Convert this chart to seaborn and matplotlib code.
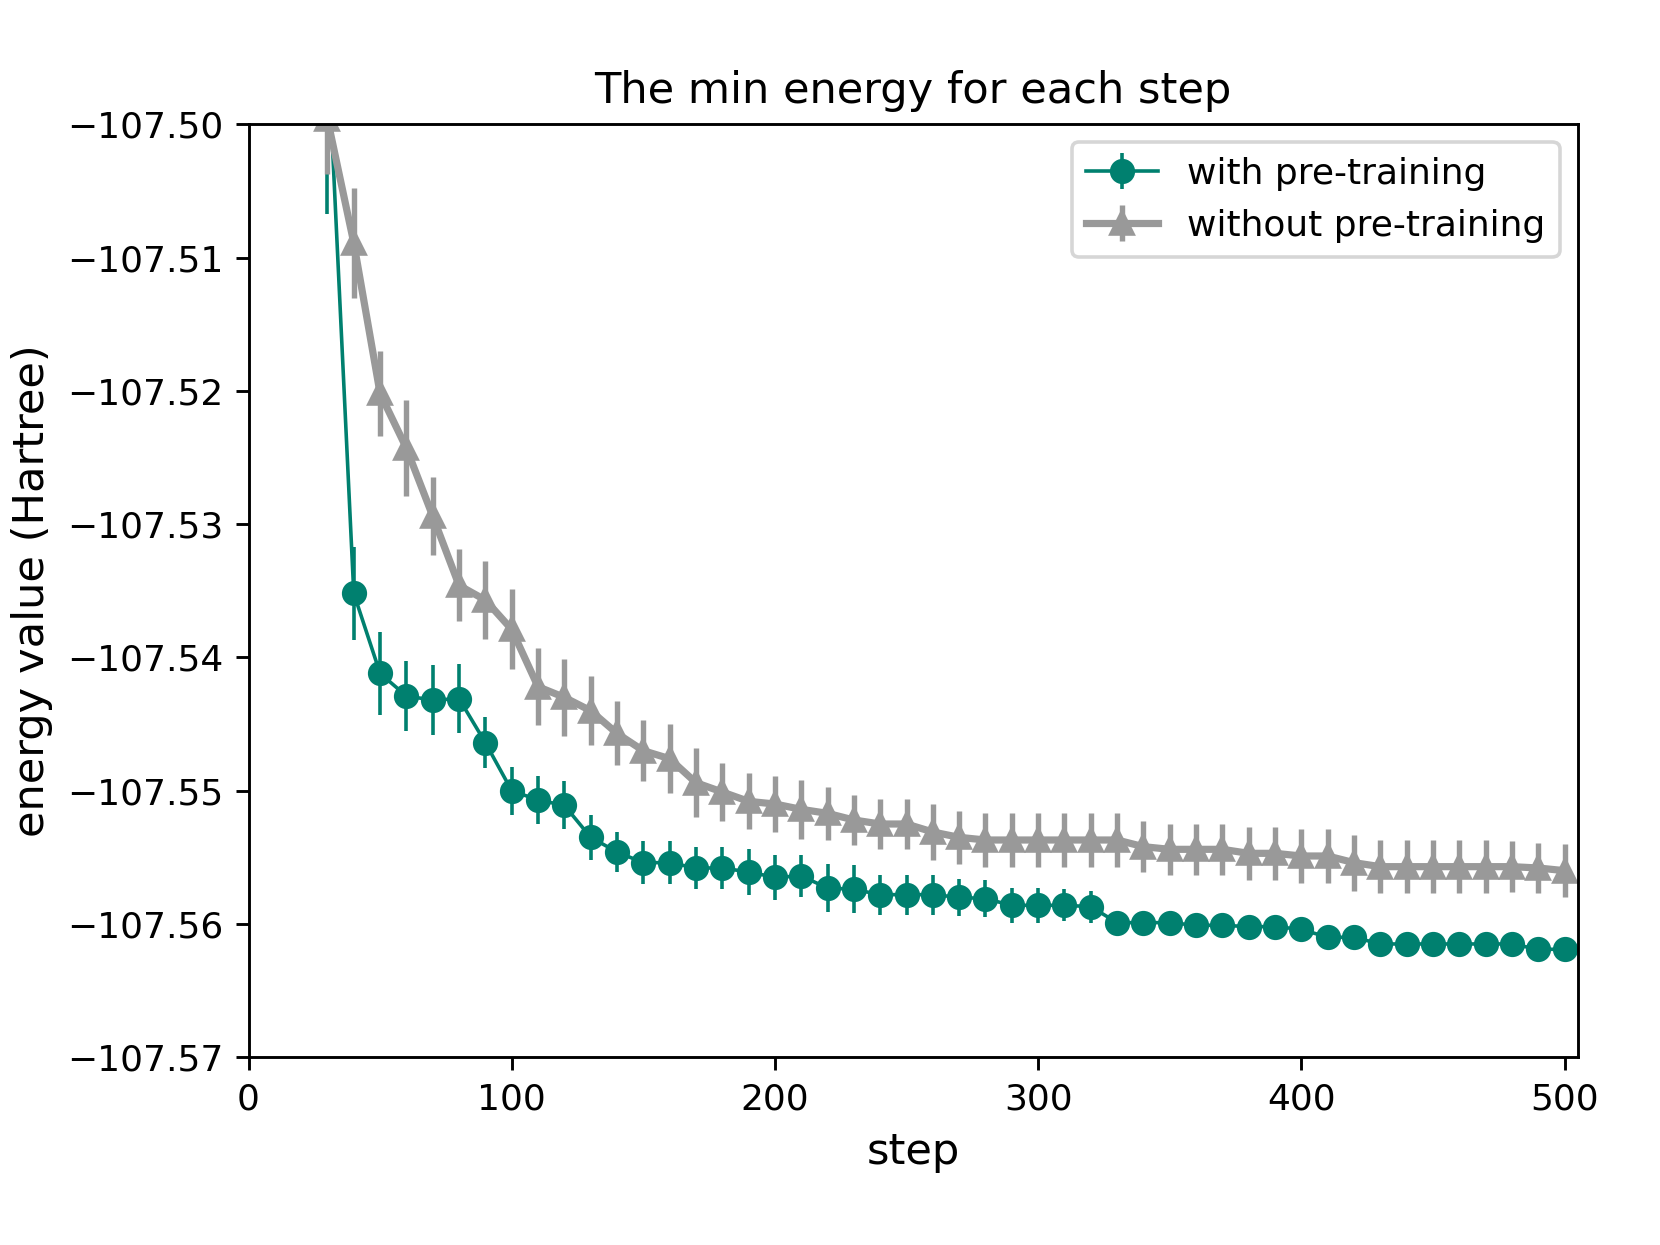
import numpy as np
import matplotlib
matplotlib.use("Agg")
import matplotlib.pyplot as plt
import matplotlib.ticker as mticker
from matplotlib.container import ErrorbarContainer
import seaborn as sns

# steps at which the minimum energy was recorded
steps = [30, 40, 50, 60, 70, 80, 90, 100, 110, 120, 130, 140, 150, 160, 170, 180,
         190, 200, 210, 220, 230, 240, 250, 260, 270, 280, 290, 300, 310, 320, 330, 340,
         350, 360, 370, 380, 390, 400, 410, 420, 430, 440, 450, 460, 470, 480, 490, 500]

# with pre-training
e_pre = [-107.4938, -107.5352, -107.5412, -107.5429, -107.5432, -107.5431, -107.5464, -107.5500,
         -107.5507, -107.5511, -107.5535, -107.5546, -107.5554, -107.5554, -107.5558, -107.5558,
         -107.5561, -107.5565, -107.5564, -107.5573, -107.5574, -107.5578, -107.5578, -107.5578,
         -107.5580, -107.5581, -107.5586, -107.5586, -107.5586, -107.5587, -107.5599, -107.5599,
         -107.5599, -107.5601, -107.5601, -107.5602, -107.5602, -107.5604, -107.5610, -107.5610,
         -107.5615, -107.5615, -107.5615, -107.5615, -107.5615, -107.5615, -107.5619, -107.5619]
err_pre = [0.0129, 0.0035, 0.0031, 0.0026, 0.0026, 0.0026, 0.0019, 0.0018,
           0.0018, 0.0018, 0.0017, 0.0015, 0.0016, 0.0016, 0.0016, 0.0016,
           0.0017, 0.0017, 0.0016, 0.0018, 0.0018, 0.0015, 0.0015, 0.0015,
           0.0014, 0.0014, 0.0013, 0.0013, 0.0012, 0.0012, 0.0008, 0.0008,
           0.0008, 0.0008, 0.0008, 0.0008, 0.0008, 0.0008, 0.0007, 0.0007,
           0.0007, 0.0007, 0.0007, 0.0007, 0.0007, 0.0007, 0.0007, 0.0007]

# without pre-training
e_nopre = [-107.4996, -107.5089, -107.5202, -107.5243, -107.5294, -107.5346, -107.5357, -107.5379,
           -107.5422, -107.5430, -107.5440, -107.5457, -107.5470, -107.5476, -107.5494, -107.5501,
           -107.5508, -107.5510, -107.5514, -107.5517, -107.5522, -107.5525, -107.5525, -107.5531,
           -107.5535, -107.5537, -107.5537, -107.5537, -107.5537, -107.5537, -107.5537, -107.5542,
           -107.5544, -107.5544, -107.5544, -107.5547, -107.5547, -107.5549, -107.5549, -107.5554,
           -107.5557, -107.5557, -107.5557, -107.5557, -107.5557, -107.5557, -107.5558, -107.5560]
err_nopre = [0.0041, 0.0041, 0.0032, 0.0036, 0.0029, 0.0027, 0.0029, 0.0030,
             0.0029, 0.0029, 0.0026, 0.0024, 0.0023, 0.0026, 0.0026, 0.0022,
             0.0021, 0.0021, 0.0022, 0.0020, 0.0019, 0.0019, 0.0019, 0.0021,
             0.0020, 0.0020, 0.0020, 0.0020, 0.0020, 0.0020, 0.0020, 0.0019,
             0.0019, 0.0019, 0.0019, 0.0020, 0.0020, 0.0020, 0.0020, 0.0021,
             0.0020, 0.0020, 0.0020, 0.0020, 0.0020, 0.0019, 0.0019, 0.0020]

y_ticks = [-107.57, -107.56, -107.55, -107.54, -107.53, -107.52, -107.51, -107.50]

teal = "#00806F"
grey = "#999999"

fig, ax = plt.subplots(figsize=(6.4, 4.8), dpi=259.375)
fig.subplots_adjust(left=0.1497, right=0.9504, top=0.9002, bottom=0.1508)

# with pre-training: bars under the line/markers
bars_pre = ax.errorbar(steps, e_pre, yerr=err_pre, fmt="none", ecolor=teal,
                       elinewidth=1.0, zorder=2.0)
sns.lineplot(x=steps, y=e_pre, ax=ax, color=teal, linewidth=1.0, marker="o",
             markersize=6, markeredgecolor=teal, markeredgewidth=1.0,
             legend=False, zorder=2.1)
line_pre = ax.lines[-1]

# without pre-training drawn on top
bars_nopre = ax.errorbar(steps, e_nopre, yerr=err_nopre, fmt="none", ecolor=grey,
                         elinewidth=1.5, zorder=2.2)
sns.lineplot(x=steps, y=e_nopre, ax=ax, color=grey, linewidth=2.0, marker="^",
             markersize=6, markeredgecolor=grey, markeredgewidth=1.0,
             legend=False, zorder=2.3)
line_nopre = ax.lines[-1]

# legend entries that look like errorbar handles
h_pre = ErrorbarContainer((line_pre, (), tuple(bars_pre.lines[2])), has_yerr=True,
                          label="with pre-training")
h_nopre = ErrorbarContainer((line_nopre, (), tuple(bars_nopre.lines[2])), has_yerr=True,
                            label="without pre-training")
ax.legend(handles=[h_pre, h_nopre], loc="upper right", fontsize=10)

ax.set_xlim(0, 505)
ax.set_ylim(-107.57, -107.50)
ax.set_yticks(y_ticks)
ax.yaxis.set_major_formatter(mticker.ScalarFormatter(useOffset=False))
ax.tick_params(labelsize=10)

ax.set_title("The min energy for each step", fontsize=12)
ax.set_xlabel("step", fontsize=12)
ax.set_ylabel("energy value (Hartree)", fontsize=12)

fig.savefig("out.png", dpi=259.375)
